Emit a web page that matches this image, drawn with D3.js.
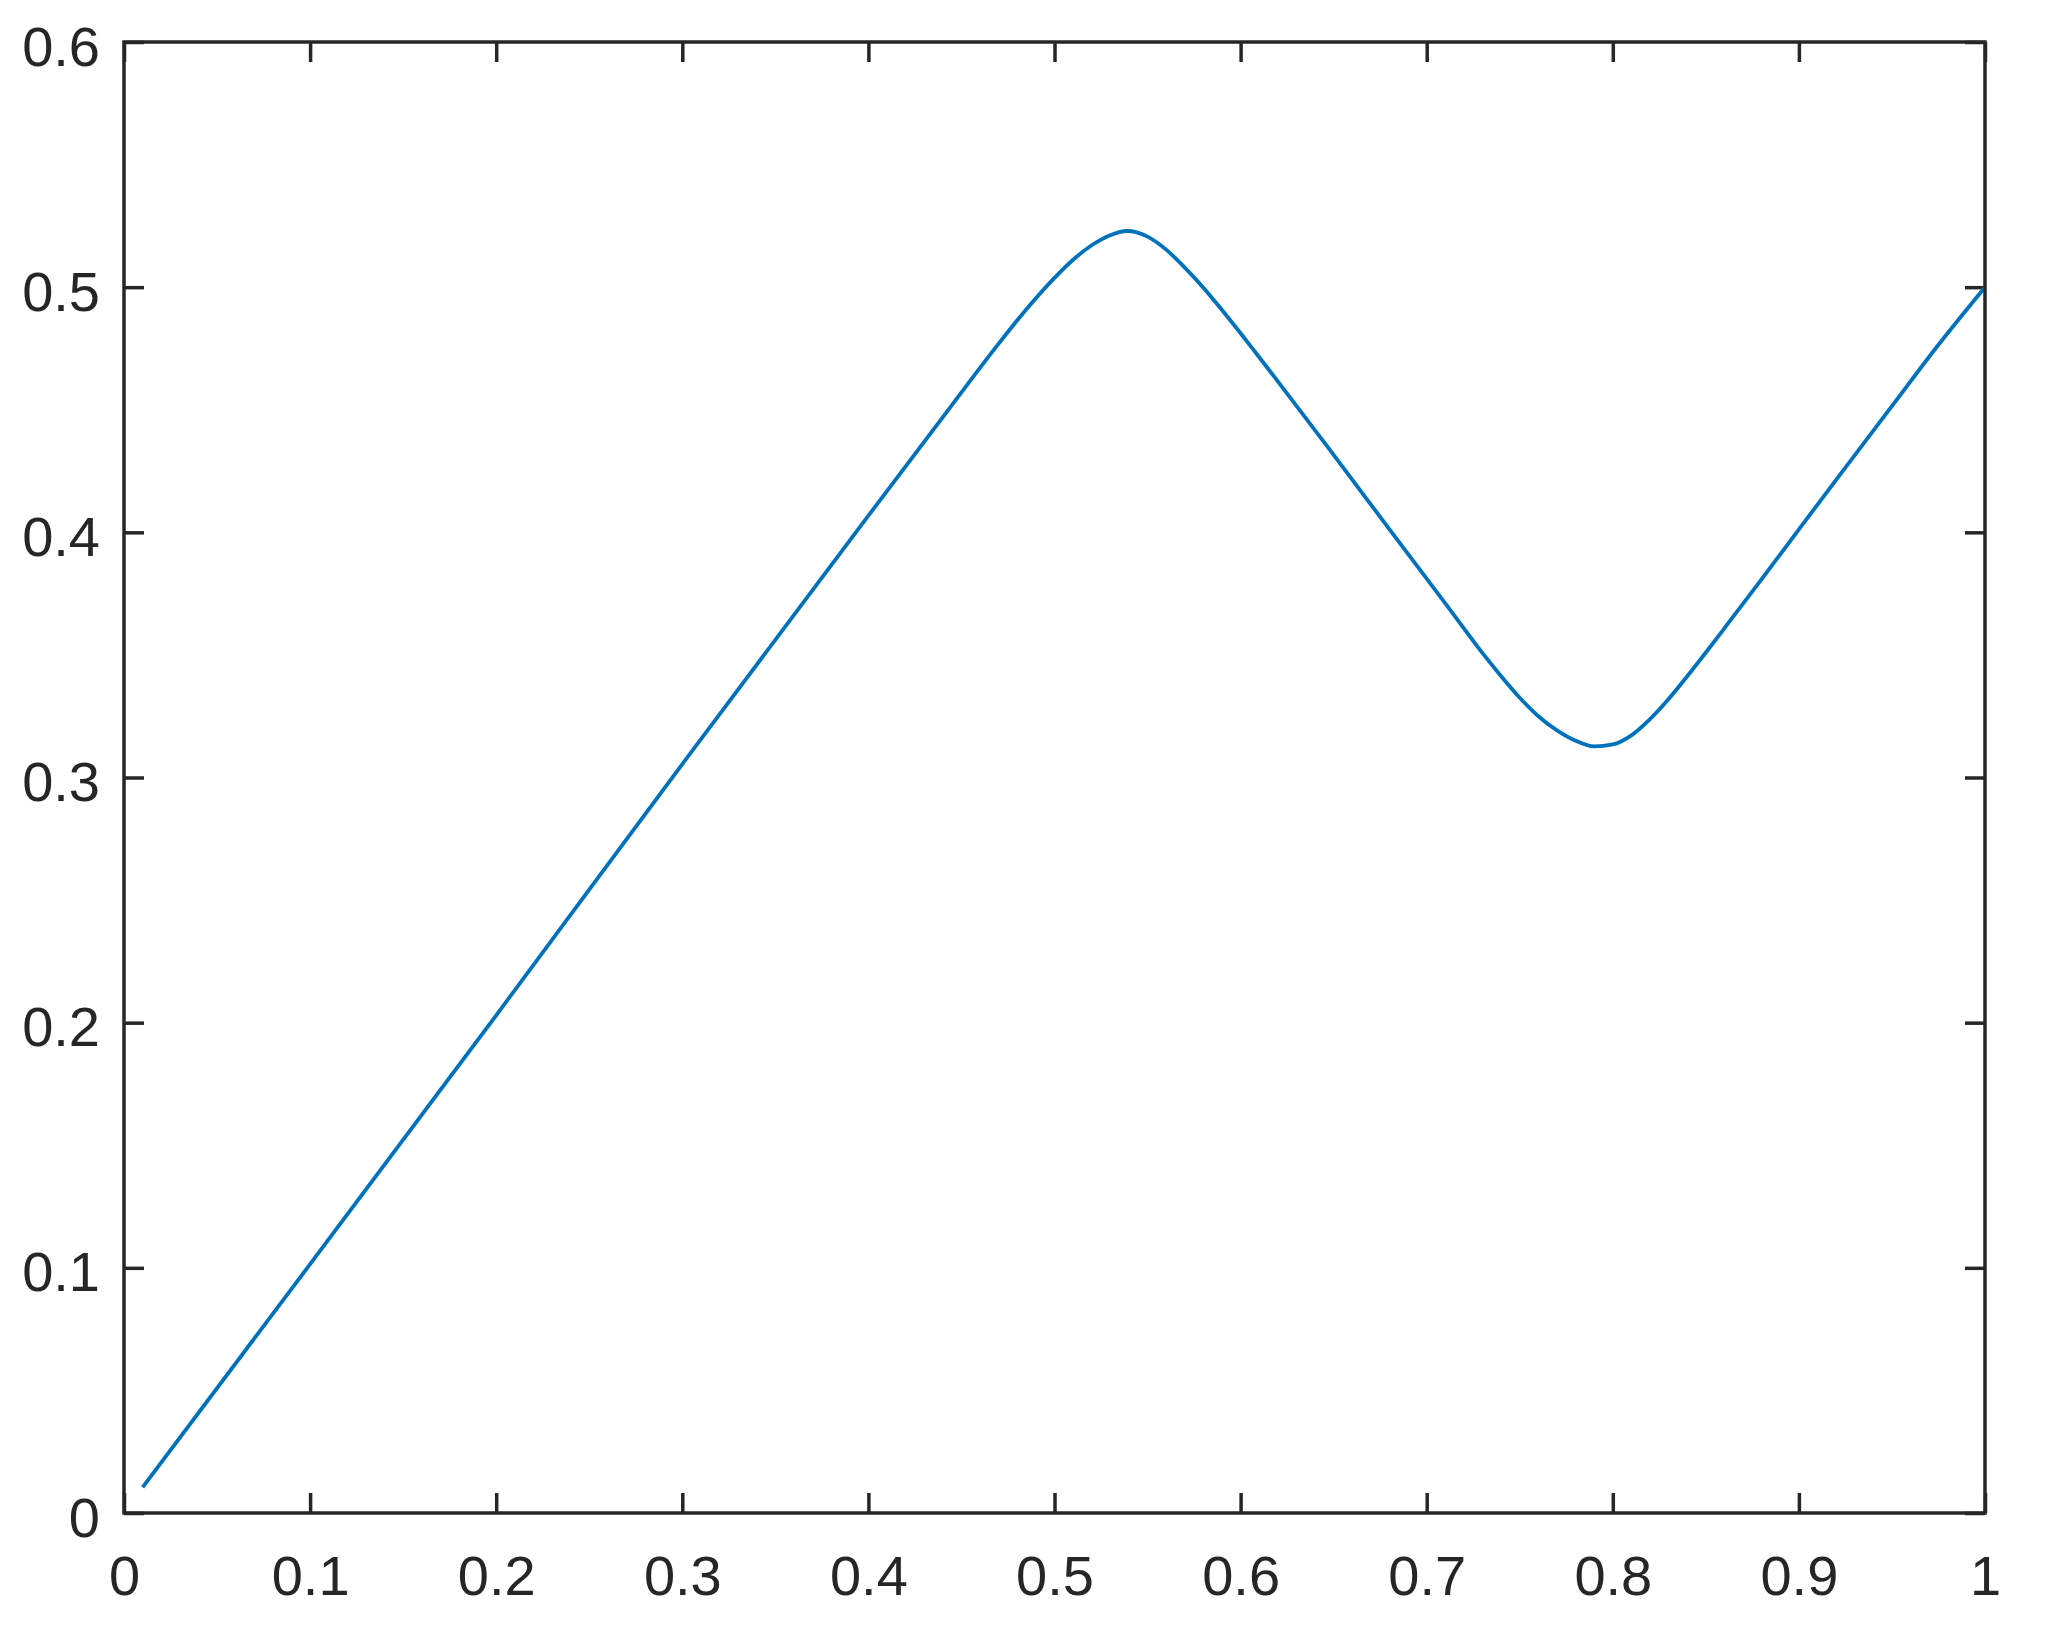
<!DOCTYPE html>
<html>
<head>
<meta charset="utf-8">
<script src="https://cdn.jsdelivr.net/npm/d3@7"></script>
<style>
  html, body { margin: 0; padding: 0; background: #ffffff; }
  svg { display: block; }
</style>
</head>
<body>
<div id="chart"></div>
<script>
// ---- data ----
const xValues = [0.01, 0.10, 0.20, 0.30, 0.40, 0.44, 0.47, 0.48, 0.49, 0.50, 0.51, 0.52, 0.53, 0.539, 0.55, 0.56, 0.57, 0.58, 0.59, 0.60, 0.61, 0.62, 0.65, 0.68, 0.71, 0.73, 0.74, 0.75, 0.76, 0.77, 0.78, 0.79, 0.80, 0.81, 0.82, 0.83, 0.84, 0.85, 0.86, 0.87, 0.88, 0.90, 0.92, 0.95, 0.975, 1.00];
const yValues = [0.0105, 0.1015, 0.203, 0.3055, 0.4068, 0.447, 0.477, 0.4865, 0.4955, 0.5038, 0.5112, 0.5171, 0.5212, 0.5229, 0.5206, 0.5153, 0.5080, 0.4998, 0.4907, 0.4812, 0.4714, 0.4616, 0.4316, 0.4012, 0.3710, 0.3507, 0.3413, 0.3325, 0.3250, 0.3192, 0.3150, 0.3127, 0.3135, 0.3172, 0.3238, 0.3320, 0.3413, 0.3510, 0.3609, 0.3709, 0.3809, 0.4012, 0.4214, 0.4515, 0.4765, 0.5000];
const xTicks = [0, 0.1, 0.2, 0.3, 0.4, 0.5, 0.6, 0.7, 0.8, 0.9, 1];
const yTicks = [0, 0.1, 0.2, 0.3, 0.4, 0.5, 0.6];
const xTickLabels = ["0", "0.1", "0.2", "0.3", "0.4", "0.5", "0.6", "0.7", "0.8", "0.9", "1"];
const yTickLabels = ["0", "0.1", "0.2", "0.3", "0.4", "0.5", "0.6"];

const points = xValues.map((x, i) => ({ x: x, y: yValues[i] }));

// ---- layout ----
const W = 2064, H = 1641;
const margin = { left: 124, right: W - 1985, top: 42, bottom: H - 1513 };
const iw = W - margin.left - margin.right;
const ih = H - margin.top - margin.bottom;
const axisColor = "#262626";
const fontFamily = "'Liberation Sans', Arial, Helvetica, sans-serif";
const fontSize = 56;
const tickLen = 20;

const svg = d3.select("#chart").append("svg")
  .attr("width", W).attr("height", H);

const g = svg.append("g").attr("transform", `translate(${margin.left},${margin.top})`);

const x = d3.scaleLinear().domain([0, 1]).range([0, iw]);
const y = d3.scaleLinear().domain([0, 0.6]).range([ih, 0]);

function styleAxis(sel) {
  sel.select(".domain").remove();
  sel.selectAll(".tick line").attr("stroke", axisColor).attr("stroke-width", 3.5);
  sel.selectAll(".tick text")
    .attr("fill", axisColor)
    .attr("font-family", fontFamily)
    .attr("font-size", fontSize);
}

// bottom axis
const gx = g.append("g").attr("transform", `translate(0,${ih})`)
  .call(d3.axisBottom(x).tickValues(xTicks).tickFormat((d, i) => xTickLabels[i])
    .tickSizeInner(-tickLen).tickSizeOuter(0));
styleAxis(gx);
gx.selectAll(".tick text").attr("y", 82).attr("dy", null).attr("text-anchor", "middle");

// top axis (ticks only)
const gxt = g.append("g")
  .call(d3.axisTop(x).tickValues(xTicks).tickFormat("")
    .tickSizeInner(-tickLen).tickSizeOuter(0));
styleAxis(gxt);

// left axis
const gy = g.append("g")
  .call(d3.axisLeft(y).tickValues(yTicks).tickFormat((d, i) => yTickLabels[i])
    .tickSizeInner(-tickLen).tickSizeOuter(0));
styleAxis(gy);
gy.selectAll(".tick text").attr("x", -24).attr("dy", null).attr("y", 23).attr("text-anchor", "end");

// right axis (ticks only)
const gyr = g.append("g").attr("transform", `translate(${iw},0)`)
  .call(d3.axisRight(y).tickValues(yTicks).tickFormat("")
    .tickSizeInner(-tickLen).tickSizeOuter(0));
styleAxis(gyr);

// data line
const line = d3.line()
  .x(d => x(d.x))
  .y(d => y(d.y))
  .curve(d3.curveMonotoneX);

g.append("path")
  .datum(points)
  .attr("fill", "none")
  .attr("stroke", "#0072BD")
  .attr("stroke-width", 3.8)
  .attr("stroke-linejoin", "round")
  .attr("d", line);

// box
g.append("rect")
  .attr("x", 0).attr("y", 0)
  .attr("width", iw).attr("height", ih)
  .attr("fill", "none")
  .attr("stroke", axisColor)
  .attr("stroke-width", 3.5);
</script>
</body>
</html>
